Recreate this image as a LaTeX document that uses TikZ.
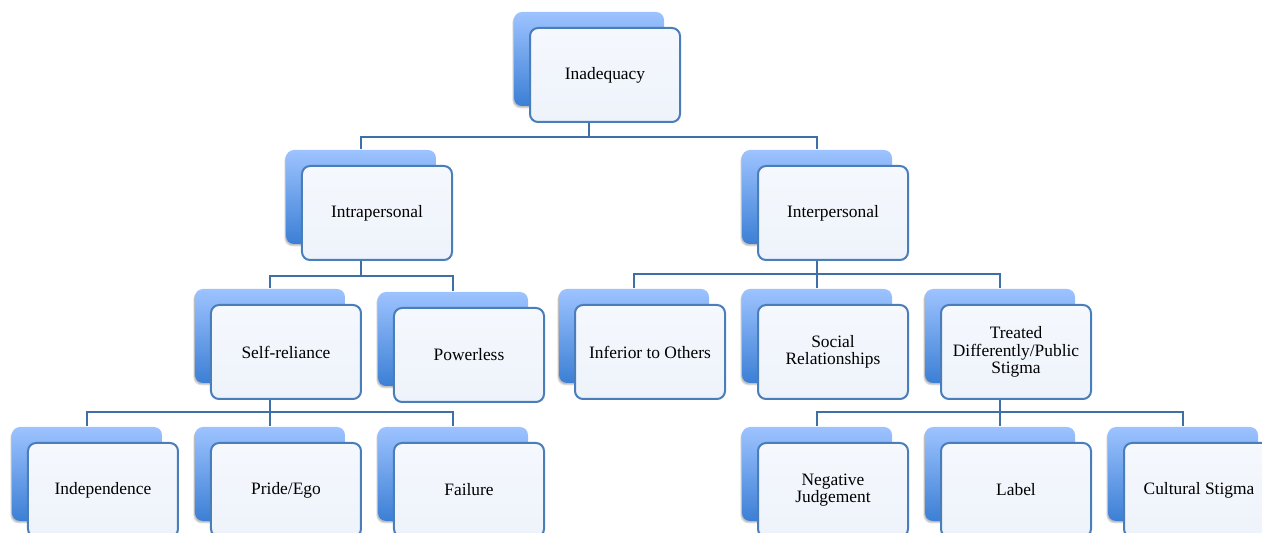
\documentclass[tikz,border=0pt]{standalone}
\usepackage{fontspec}
\setmainfont{Liberation Serif}
\usetikzlibrary{positioning,shadows,backgrounds,calc}
\definecolor{backtop}{HTML}{9DC3FF}
\definecolor{backbot}{HTML}{3C7FD5}
\definecolor{fronttop}{HTML}{F5F8FD}
\definecolor{frontbot}{HTML}{EEF3FB}
\definecolor{frameblue}{HTML}{4A7EBB}
\definecolor{linkblue}{HTML}{3F6FA7}
\begin{document}
\begin{tikzpicture}[node distance=91.5pt,
box/.style={rectangle,rounded corners=4pt,minimum width=75pt,minimum height=47pt,inner sep=0pt,align=center,
  font=\fontsize{8.7pt}{8.6pt}\selectfont,
  general shadow={shadow xshift=-8.8pt,shadow yshift=6.8pt,fill=black,opacity=.12},
  general shadow={shadow xshift=-8.4pt,shadow yshift=7.3pt,fill=black,opacity=.15},
  general shadow={shadow xshift=-8pt,shadow yshift=8pt,top color=backtop,bottom color=backbot,draw=none},
  draw=frameblue,line width=1pt,top color=fronttop,bottom color=frontbot},
link/.style={draw=linkblue,line width=.7pt}]

\useasboundingbox (-302.5pt,37.5pt) rectangle (328.5pt,-229pt);
\clip (-302.5pt,37.5pt) rectangle (328.5pt,-229pt);

% Nodes
\node[box] (inad) {Inadequacy};
\node[box,below of = inad,xshift=-114pt,yshift=22.5pt] (intra) {Intrapersonal};
\node[box,below of = inad,xshift=114pt,yshift=22.5pt] (inter) {Interpersonal};

\node[box,below of = intra,xshift=-45.5pt,yshift=22pt] (selfrel) {Self-reliance};
\node[box,right of = selfrel,yshift=-1.5pt] (power) {Powerless};
\node[box,below of = inter,xshift=-91.5pt,yshift=22pt] (infer) {Inferior to Others};
\node[box,below of = inter,yshift=22pt] (social) {Social\\Relationships};
\node[box,right of = social] (treated) {Treated\\Differently/Public\\Stigma};

\node[box,below of = selfrel,xshift=-91.5pt,yshift=22.5pt] (indep) {Independence};
\node[box,below of = selfrel,yshift=22.5pt] (pride) {Pride/Ego};
\node[box,right of = pride] (fail) {Failure};
\node[box,below of = treated,xshift=-91.5pt,yshift=22.5pt] (negj) {Negative\\Judgement};
\node[box,below of = treated,yshift=22.5pt] (label) {Label};
\node[box,right of = label] (cult) {Cultural Stigma};

%links
\begin{scope}[on background layer]
\draw[link] ([xshift=-8pt,yshift=8pt]inad.south) -- ++(0,-15pt) -| ([xshift=-8pt,yshift=8pt]intra.north);
\draw[link] ([xshift=-8pt,yshift=8pt]inad.south) -- ++(0,-15pt) -| ([xshift=-8pt,yshift=8pt]inter.north);

\draw[link] ([xshift=-8pt,yshift=8pt]intra.south) -- ++(0,-15.5pt) -| ([xshift=-8pt,yshift=8pt]selfrel.north);
\draw[link] ([xshift=-8pt,yshift=8pt]intra.south) -- ++(0,-15.5pt) -| ([xshift=-8pt,yshift=8pt]power.north);

\draw[link] ([xshift=-8pt,yshift=8pt]inter.south) -- ++(0,-14.5pt) -| ([xshift=-8pt,yshift=8pt]infer.north);
\draw[link] ([xshift=-8pt,yshift=8pt]inter.south) -- ++(0,-14.5pt) -| ([xshift=-8pt,yshift=8pt]social.north);
\draw[link] ([xshift=-8pt,yshift=8pt]inter.south) -- ++(0,-14.5pt) -| ([xshift=-8pt,yshift=8pt]treated.north);

\draw[link] ([xshift=-8pt,yshift=8pt]selfrel.south) -- ++(0,-14pt) -| ([xshift=-8pt,yshift=8pt]indep.north);
\draw[link] ([xshift=-8pt,yshift=8pt]selfrel.south) -- ++(0,-14pt) -| ([xshift=-8pt,yshift=8pt]pride.north);
\draw[link] ([xshift=-8pt,yshift=8pt]selfrel.south) -- ++(0,-14pt) -| ([xshift=-8pt,yshift=8pt]fail.north);

\draw[link] ([xshift=-8pt,yshift=8pt]treated.south) -- ++(0,-14pt) -| ([xshift=-8pt,yshift=8pt]negj.north);
\draw[link] ([xshift=-8pt,yshift=8pt]treated.south) -- ++(0,-14pt) -| ([xshift=-8pt,yshift=8pt]label.north);
\draw[link] ([xshift=-8pt,yshift=8pt]treated.south) -- ++(0,-14pt) -| ([xshift=-8pt,yshift=8pt]cult.north);
\end{scope}

\end{tikzpicture}
\end{document}
